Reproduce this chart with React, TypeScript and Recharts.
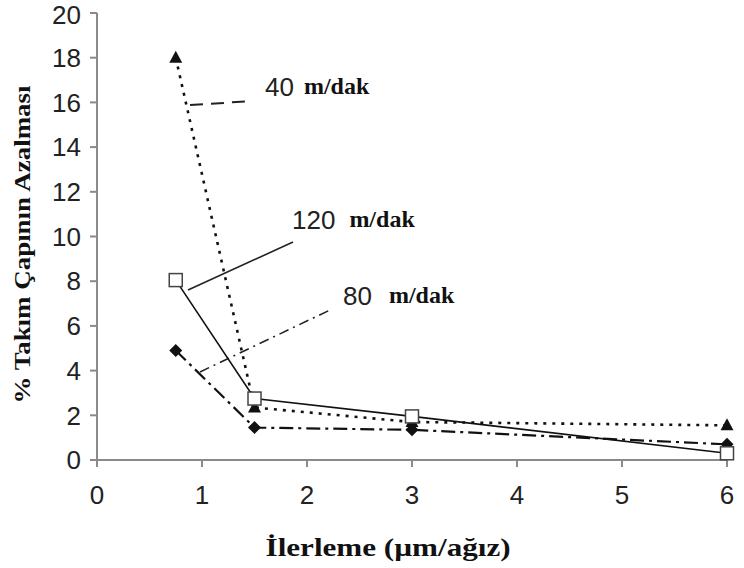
import { LineChart, Line, XAxis, YAxis, ReferenceLine, ReferenceDot } from "recharts";

// feed (µm/tooth) vs % tool diameter reduction, three cutting speeds
const feedRates = [0.75, 1.5, 3, 6];
const wear40 = [18.0, 2.35, 1.7, 1.55];
const wear80 = [4.9, 1.45, 1.35, 0.7];
const wear120 = [8.05, 2.75, 1.95, 0.3];

const xTicks = [0, 1, 2, 3, 4, 5, 6];
const yTicks = [0, 2, 4, 6, 8, 10, 12, 14, 16, 18, 20];

// annotation leaders + labels (data units)
const speedNames = ["40", "120", "80"];
const leaderFrom = [
  { x: 0.886, y: 15.88 },
  { x: 0.867, y: 7.61 },
  { x: 0.981, y: 3.94 },
];
const leaderTo = [
  { x: 1.476, y: 16.06 },
  { x: 1.867, y: 9.75 },
  { x: 2.219, y: 6.71 },
];
const labelAt = [
  { x: 1.6, y: 16.3 },
  { x: 1.857, y: 10.35 },
  { x: 2.343, y: 6.93 },
];
const leaderDash = ["13 8", "0", "10 5 2 5"];
const labelGap = [10, 14, 17];

const data = feedRates.map((f, i) => ({
  feed: f,
  s40: wear40[i],
  s80: wear80[i],
  s120: wear120[i],
}));

const SANS = "'Liberation Sans', Arial, sans-serif";
const SERIF = "'Liberation Serif', 'Times New Roman', serif";
const AXIS = "#8a8a8a";
const INK = "#111";

const Triangle = (p: any) => {
  const { cx, cy, key } = p;
  if (cx == null || cy == null) return <g key={key} />;
  return <path key={key} d={`M${cx},${cy - 7} L${cx + 6.5},${cy + 5} L${cx - 6.5},${cy + 5} Z`} fill={INK} />;
};
const Diamond = (p: any) => {
  const { cx, cy, key } = p;
  if (cx == null || cy == null) return <g key={key} />;
  return <path key={key} d={`M${cx},${cy - 6.5} L${cx + 6.5},${cy} L${cx},${cy + 6.5} L${cx - 6.5},${cy} Z`} fill={INK} />;
};
const Square = (p: any) => {
  const { cx, cy, key } = p;
  if (cx == null || cy == null) return <g key={key} />;
  return <rect key={key} x={cx - 6.5} y={cy - 6.5} width={13} height={13} fill="#fff" stroke="#444" strokeWidth={1.5} />;
};

const makeSpeedLabel = (i: number) => (props: any) => {
  const vb = props.viewBox || {};
  const x = (vb.x ?? 0) + (vb.width ?? 0) / 2;
  const y = (vb.y ?? 0) + (vb.height ?? 0) / 2;
  return (
    <text x={x} y={y} fill={INK}>
      <tspan fontFamily={SANS} fontSize={26} fill="#222">{speedNames[i]}</tspan>
      <tspan dx={labelGap[i]} dy={-2} fontFamily={SERIF} fontWeight="bold" fontSize={24}>m/dak</tspan>
    </text>
  );
};

const XTitle = (props: any) => {
  const vb = props.viewBox;
  return (
    <text
      x={vb.x + vb.width * 0.462}
      y={556}
      textAnchor="middle"
      fontFamily={SERIF}
      fontWeight="bold"
      fontSize={25}
      fill={INK}
      textLength={245}
      lengthAdjust="spacingAndGlyphs"
    >
      İlerleme (µm/ağız)
    </text>
  );
};

const YTitle = (props: any) => {
  const vb = props.viewBox;
  const cy = vb.y + vb.height / 2 + 8;
  return (
    <text
      x={22}
      y={cy}
      transform={`rotate(-90, 22, ${cy})`}
      textAnchor="middle"
      dominantBaseline="central"
      fontFamily={SERIF}
      fontWeight="bold"
      fontSize={23}
      fill={INK}
      textLength={318}
      lengthAdjust="spacingAndGlyphs"
    >
      % Takım Çapının Azalması
    </text>
  );
};

export default function App() {
  return (
    <div style={{ position: "absolute", left: 0, top: 0, width: 744, height: 568, background: "#fff" }}>
      <LineChart width={744} height={568} data={data} margin={{ top: 13, right: 17, left: 0, bottom: 0 }}>
        <XAxis
          type="number"
          dataKey="feed"
          domain={[0, 6]}
          ticks={xTicks}
          height={108}
          stroke={AXIS}
          axisLine={{ stroke: AXIS, strokeWidth: 2 }}
          tickLine={{ stroke: AXIS, strokeWidth: 2 }}
          tickSize={7}
          tickMargin={19}
          tick={{ fontSize: 26, fill: "#222", fontFamily: SANS }}
          label={{ content: XTitle }}
        />
        <YAxis
          type="number"
          domain={[0, 20]}
          ticks={yTicks}
          width={97}
          stroke={AXIS}
          axisLine={{ stroke: AXIS, strokeWidth: 2 }}
          tickLine={{ stroke: AXIS, strokeWidth: 2 }}
          tickSize={7}
          tickMargin={9}
          tick={{ fontSize: 26, fill: "#222", fontFamily: SANS }}
          label={{ content: YTitle }}
        />
        {speedNames.map((name, i) => (
          <ReferenceLine
            key={"leader" + name}
            segment={[leaderFrom[i], leaderTo[i]]}
            stroke="#222"
            strokeWidth={i === 0 ? 2 : 1.6}
            strokeDasharray={leaderDash[i]}
          />
        ))}
        {speedNames.map((name, i) => (
          <ReferenceDot
            key={"label" + name}
            x={labelAt[i].x}
            y={labelAt[i].y}
            r={1}
            fill="none"
            stroke="none"
            label={{ content: makeSpeedLabel(i) }}
          />
        ))}
        <Line
          dataKey="s40"
          type="linear"
          stroke={INK}
          strokeWidth={2.6}
          strokeDasharray="3 6"
          dot={Triangle}
          activeDot={false}
          isAnimationActive={false}
        />
        <Line
          dataKey="s80"
          type="linear"
          stroke={INK}
          strokeWidth={2.2}
          strokeDasharray="14 5 3 5"
          dot={Diamond}
          activeDot={false}
          isAnimationActive={false}
        />
        <Line
          dataKey="s120"
          type="linear"
          stroke={INK}
          strokeWidth={1.6}
          dot={Square}
          activeDot={false}
          isAnimationActive={false}
        />
      </LineChart>
    </div>
  );
}
